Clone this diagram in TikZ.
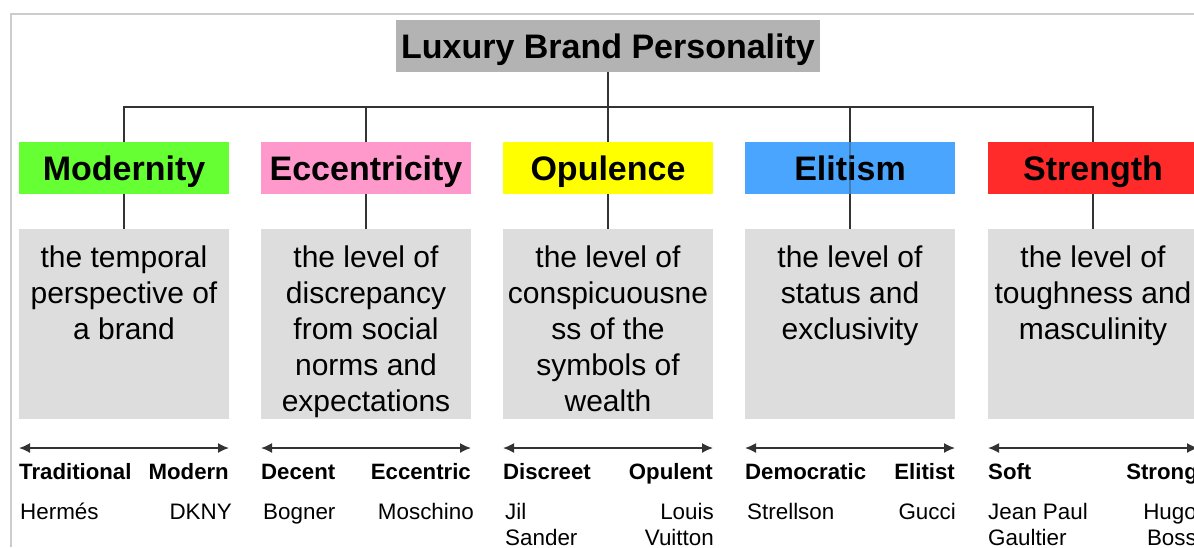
\documentclass[tikz,border=0pt]{standalone}
\usepackage{fontspec}
\setmainfont{Liberation Sans}
\usetikzlibrary{arrows.meta}

\definecolor{titlegray}{HTML}{B3B3B3}
\definecolor{descgray}{HTML}{DDDDDD}
\definecolor{framegray}{HTML}{CCCCCC}
\definecolor{linkgray}{HTML}{333333}
\definecolor{modgreen}{HTML}{66FF33}
\definecolor{eccpink}{HTML}{FF99CC}
\definecolor{opuyellow}{HTML}{FFFF00}
\definecolor{eliblue}{HTML}{4AA5FF}
\definecolor{strred}{HTML}{FF2A2A}

\tikzset{
  titlebox/.style={fill=titlegray, minimum width=424pt, minimum height=52pt, inner sep=0pt,
    text height=24pt, text depth=0pt,
    font=\fontsize{34}{38}\selectfont\bfseries},
  catbox/.style={minimum width=210pt, minimum height=52pt, inner sep=0pt,
    text height=24pt, text depth=0pt,
    font=\fontsize{34}{38}\selectfont\bfseries},
  descbox/.style={fill=descgray, minimum width=210pt, minimum height=190pt, inner sep=0pt},
  % multi-line text: the base anchor sits on the last line
  desctext/.style={anchor=base, align=center, inner sep=0pt,
    font=\fontsize{30}{36}\selectfont},
  pole/.style={inner sep=0pt, font=\fontsize{22.2}{26}\selectfont\bfseries},
  brand/.style={inner sep=0pt, font=\fontsize{22.4}{26}\selectfont},
  link/.style={draw=linkgray, line width=1.2pt},
  scale arrow/.style={draw=linkgray, line width=1.6pt,
    {Latex[length=11pt,width=10pt]}-{Latex[length=11pt,width=10pt]}},
  frame/.style={draw=framegray, line width=1.6pt}
}

\begin{document}
\begin{tikzpicture}[x=1pt, y=-1pt]
  \useasboundingbox (0,0) rectangle (1194,547);
  \clip (0,0) rectangle (1194,547);

  % outer frame
  \draw[frame] (11,547) -- (11,14) -- (1194,14);

  % title
  \node[titlebox] (title) at (608,46) {Luxury Brand Personality};

  % five personality dimensions
  \node[catbox, fill=modgreen]   (c1) at (124,168)  {Modernity};
  \node[catbox, fill=eccpink]    (c2) at (366,168)  {Eccentricity};
  \node[catbox, fill=opuyellow]  (c3) at (608,168)  {Opulence};
  \node[catbox, fill=eliblue]    (c4) at (850,168)  {Elitism};
  \node[catbox, fill=strred]     (c5) at (1093,168) {Strength};

  % definition boxes
  \node[descbox] (d1) at (124,324)  {};
  \node[descbox] (d2) at (366,324)  {};
  \node[descbox] (d3) at (608,324)  {};
  \node[descbox] (d4) at (850,324)  {};
  \node[descbox] (d5) at (1093,324) {};

  \node[desctext] (t1) at (124,339)  {the temporal\\perspective of\\a brand};
  \node[desctext] (t2) at (366,411)  {the level of\\discrepancy\\from social\\norms and\\expectations};
  \node[desctext] (t3) at (608,411)  {the level of\\conspicuousne\\ss of the\\symbols of\\wealth};
  \node[desctext] (t4) at (850,339)  {the level of\\status and\\exclusivity};
  \node[desctext] (t5) at (1093,339) {the level of\\toughness and\\masculinity};

  % tree connectors
  \coordinate (busL) at (124,107);
  \coordinate (busR) at (1093,107);
  \draw[link] (c1.north) -- (busL) -- (busR) -- (c5.north);
  \draw[link] (c2.north) -- (c2.north |- busL);
  \draw[link] (c4.north) -- (c4.north |- busL);
  \draw[link] (title.south) -- (c3.north);
  \draw[link, opacity=0.35] (c4.north) -- (c4.south);
  \foreach \i in {1,...,5} {
    \draw[link] (c\i.south) -- (d\i.north);
  }

  % scales
  \foreach \i/\x in {1/124,2/366,3/608,4/850,5/1093} {
    \coordinate (s\i l) at (\x-105,448);
    \coordinate (s\i r) at (\x+105,448);
    \draw[scale arrow] (s\i l) -- (s\i r);
  }

  % scale poles
  \node[pole, anchor=base west] (p1l) at (19,479)   {Traditional};
  \node[pole, anchor=base east] (p1r) at (229,479)  {Modern};
  \node[pole, anchor=base west] (p2l) at (261,479)  {Decent};
  \node[pole, anchor=base east] (p2r) at (471,479)  {Eccentric};
  \node[pole, anchor=base west] (p3l) at (503,479)  {Discreet};
  \node[pole, anchor=base east] (p3r) at (713,479)  {Opulent};
  \node[pole, anchor=base west] (p4l) at (745,479)  {Democratic};
  \node[pole, anchor=base east] (p4r) at (955,479)  {Elitist};
  \node[pole, anchor=base west] (p5l) at (988,479)  {Soft};
  \node[pole, anchor=base east] (p5r) at (1198,479) {Strong};

  % example brands
  \node[brand, anchor=base west] (b1l) at (20,519)  {Hermés};
  \node[brand, anchor=base east] (b1r) at (232,519) {DKNY};
  \node[brand, anchor=base west] (b2l) at (263,519) {Bogner};
  \node[brand, anchor=base east] (b2r) at (474,519) {Moschino};
  \node[brand, anchor=base west, align=left]  (b3l) at (505,545)  {Jil\\Sander};
  \node[brand, anchor=base east, align=right] (b3r) at (714,545)  {Louis\\Vuitton};
  \node[brand, anchor=base west] (b4l) at (747,519) {Strellson};
  \node[brand, anchor=base east] (b4r) at (956,519) {Gucci};
  \node[brand, anchor=base west, align=left]  (b5l) at (988,545)  {Jean Paul\\Gaultier};
  \node[brand, anchor=base east, align=right] (b5r) at (1197,545) {Hugo\\Boss};
\end{tikzpicture}
\end{document}
